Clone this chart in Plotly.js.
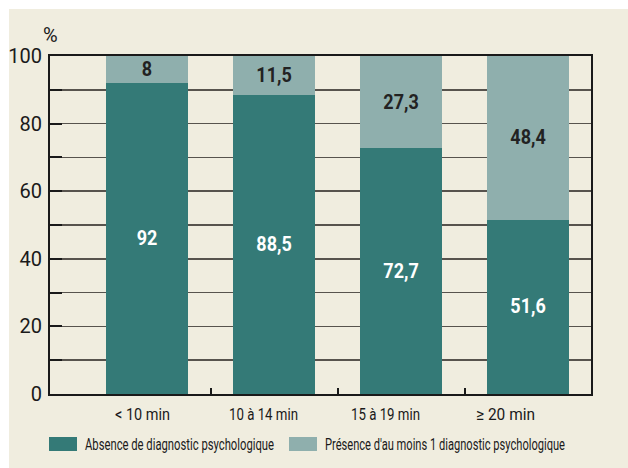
<!DOCTYPE html>
<html>
<head>
<meta charset="utf-8">
<script src="https://cdn.plot.ly/plotly-3.0.1.min.js"></script>
<style>html,body{margin:0;padding:0;background:#fff;}#chart{width:628px;height:468px;}</style>
</head>
<body>
<div id="chart"></div>
<script>
const categories = ["< 10 min", "10 à 14 min", "15 à 19 min", "≥ 20 min"];
const absenceValues = [92, 88.5, 72.7, 51.6];
const presenceValues = [8, 11.5, 27.3, 48.4];
const seriesNames = ["Absence de diagnostic psychologique", "Présence d'au moins 1 diagnostic psychologique"];
const yTickVals = [0, 10, 20, 30, 40, 50, 60, 70, 80, 90, 100];
const yTickText = ["0", "", "20", "", "40", "", "60", "", "80", "", "100"];

const cream = "#f0eddf";
const dark = "#347a77";
const light = "#8fafad";
const numFont = "Roboto, 'Open Sans', sans-serif";
const narrowFont = "Roboto, sans-serif";
const fmt = v => String(v).replace(".", ",");
const xIdx = categories.map((c, i) => i);

// text box styling (widths in px, horizontal offsets in px)
const catWidths = [55, 69, 69, 59];
const catShifts = [-4.5, -10.5, -16, -22.5];
const legendWidths = [189, 240];

const traces = [
  {
    type: "bar", x: xIdx, y: absenceValues, name: seriesNames[0],
    marker: {color: dark, line: {width: 0}}, width: 0.646,
    text: absenceValues.map(fmt), texttemplate: "%{text}",
    textposition: "inside", insidetextanchor: "middle",
    textfont: {color: "#ffffff", size: 18, family: numFont, weight: 700},
    hoverinfo: "skip", showlegend: false
  },
  {
    type: "bar", x: xIdx, y: presenceValues, name: seriesNames[1],
    marker: {color: light, line: {width: 0}}, width: 0.646,
    text: presenceValues.map(fmt), texttemplate: "%{text}",
    textposition: "inside", insidetextanchor: "middle",
    textfont: {color: "#222222", size: 18, family: numFont, weight: 700},
    hoverinfo: "skip", showlegend: false
  },
  {
    type: "scatter", x: [0], y: [0], xaxis: "x2", yaxis: "y",
    mode: "markers", marker: {opacity: 0}, hoverinfo: "skip", showlegend: false
  }
];

const xRange = [-0.764, 3.496];

const catAnnotations = categories.map((c, i) => ({
  xref: "x", yref: "paper", x: xIdx[i], y: -0.0577, xshift: catShifts[i],
  text: c, showarrow: false, xanchor: "center", yanchor: "middle",
  width: catWidths[i] + 4, font: {family: narrowFont, size: 17, color: "#1a1a1a"}
}));

const layout = {
  width: 628, height: 468,
  margin: {l: 50, r: 37, t: 56, b: 74},
  paper_bgcolor: "#ffffff",
  plot_bgcolor: cream,
  barmode: "stack",
  uniformtext: {mode: "show", minsize: 18},
  xaxis: {
    range: xRange, tickmode: "array", tickvals: xIdx, ticktext: categories,
    showticklabels: false, ticks: "", showgrid: false, zeroline: false,
    showline: true, linecolor: "#1a1a1a", linewidth: 2, mirror: true
  },
  xaxis2: {
    overlaying: "x", anchor: "y", side: "bottom", range: xRange,
    tickmode: "array", tickvals: [0.5, 1.5, 2.5], ticks: "inside",
    ticklen: 6, tickwidth: 2, tickcolor: "#1a1a1a",
    showticklabels: false, showgrid: false, zeroline: false, showline: false
  },
  yaxis: {
    range: [0, 100], tickmode: "array", tickvals: yTickVals, ticktext: yTickText,
    ticks: "inside", ticklen: 12, tickwidth: 2, tickcolor: "#1a1a1a",
    showgrid: true, gridcolor: "#57534d", gridwidth: 1.5,
    zeroline: false, showline: true, linecolor: "#1a1a1a", linewidth: 2, mirror: true,
    tickfont: {family: numFont, size: 20, color: "#1a1a1a"},
    ticklabelstandoff: 2
  },
  shapes: [
    {type: "rect", xref: "paper", yref: "paper", x0: -0.0758, x1: 1.07, y0: -0.22, y1: 1.139,
     fillcolor: cream, line: {width: 0}, layer: "below"},
    {type: "rect", xref: "paper", yref: "paper", x0: -0.0018, x1: 0.0499, y0: -0.1686, y1: -0.1272,
     fillcolor: dark, line: {width: 0}},
    {type: "rect", xref: "paper", yref: "paper", x0: 0.4418, x1: 0.4935, y0: -0.1686, y1: -0.1272,
     fillcolor: light, line: {width: 0}}
  ],
  annotations: [
    {xref: "paper", yref: "paper", x: 0.0, y: 1.062, text: "%", showarrow: false,
     xanchor: "center", yanchor: "middle", font: {family: numFont, size: 20, color: "#1a1a1a"}},
    {xref: "paper", yref: "paper", x: 0.2394, y: -0.150, text: seriesNames[0], showarrow: false,
     xanchor: "center", yanchor: "middle", width: legendWidths[0] + 4,
     font: {family: narrowFont, size: 16, color: "#1a1a1a"}},
    {xref: "paper", yref: "paper", x: 0.7301, y: -0.150, text: seriesNames[1], showarrow: false,
     xanchor: "center", yanchor: "middle", width: legendWidths[1] + 4,
     font: {family: narrowFont, size: 16, color: "#1a1a1a"}}
  ].concat(catAnnotations),
  showlegend: false
};

function condense(nodes, size, widths) {
  nodes.forEach((node, i) => {
    if (node.getAttribute("data-condensed")) return;
    const w = widths ? widths[i] : node.getComputedTextLength();
    if (size) node.style.fontSize = size + "px";
    node.setAttribute("textLength", w);
    node.setAttribute("lengthAdjust", "spacingAndGlyphs");
    node.setAttribute("data-condensed", "1");
  });
}

function applyCondense(gd) {
  const ann = Array.from(gd.querySelectorAll(".annotation-text"));
  condense(ann.slice(1, 3), null, legendWidths);
  condense(ann.slice(3, 3 + categories.length), null, catWidths);
  const bt = Array.from(gd.querySelectorAll("text.bartext"));
  condense(bt, 21, null);
}

const gdEl = document.getElementById("chart");
Plotly.newPlot(gdEl, traces, layout, {displayModeBar: false, staticPlot: true}).then(gd => {
  applyCondense(gd);
  gd.on("plotly_afterplot", () => applyCondense(gd));
  setTimeout(() => applyCondense(gd), 50);
});
</script>
</body>
</html>
